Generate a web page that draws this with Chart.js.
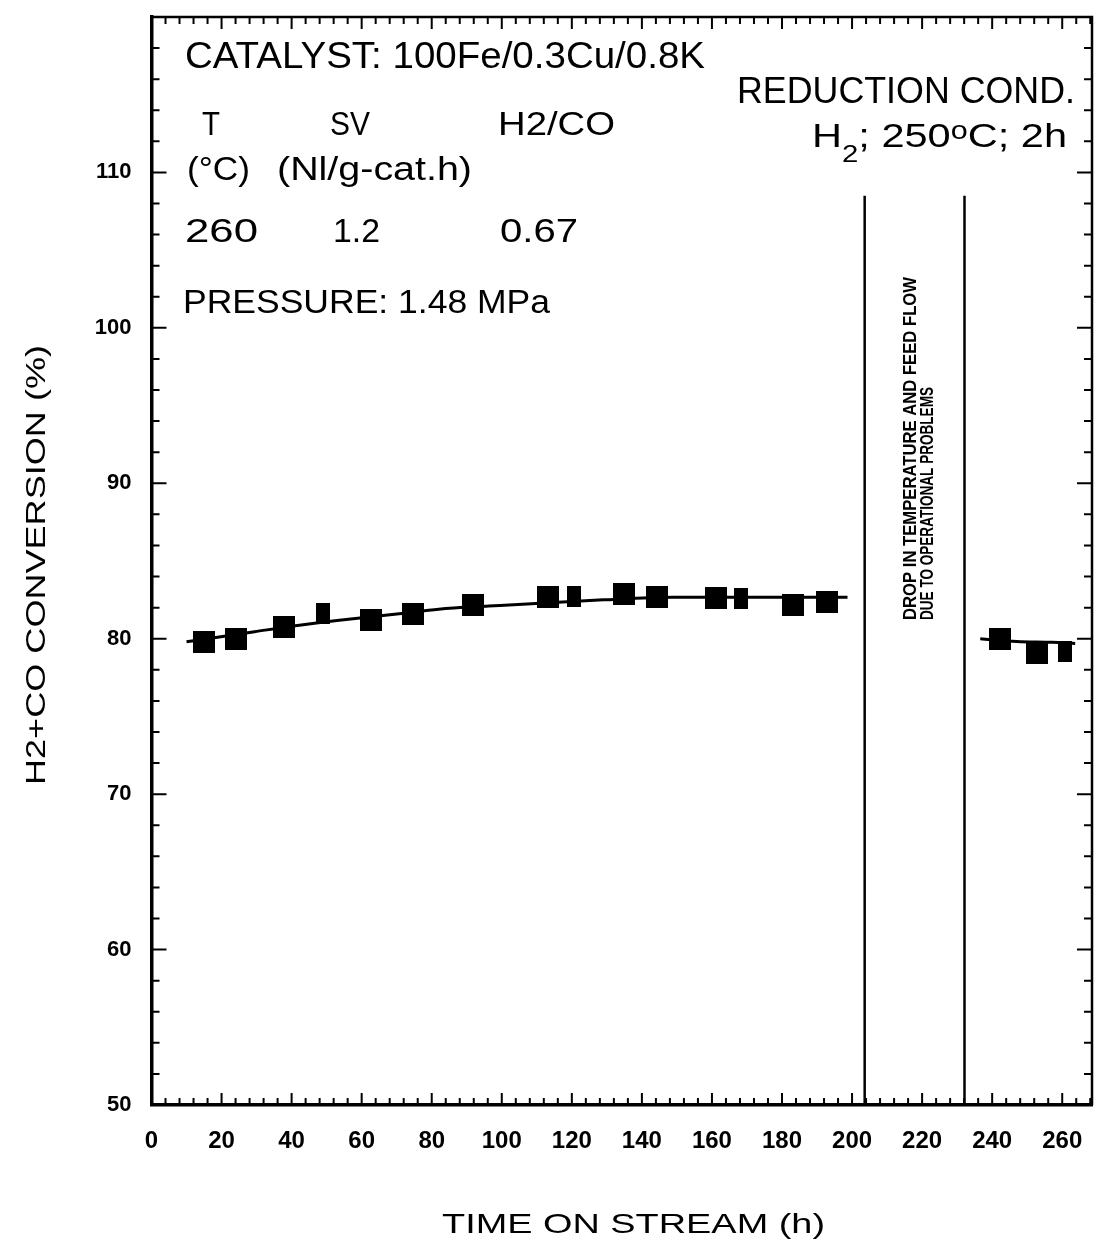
<!DOCTYPE html>
<html>
<head>
<meta charset="utf-8">
<script src="https://cdn.jsdelivr.net/npm/chart.js@4.4.0/dist/chart.umd.min.js"></script>
<style>
  html, body { margin: 0; padding: 0; background: #fff; }
  #wrap { width: 1104px; height: 1257px; position: relative; }
</style>
</head>
<body>
<div id="wrap"><canvas id="conversionChart" width="1104" height="1257"></canvas></div>
<script>
// time on stream (h) vs H2+CO conversion (%)
const hours = [14.9, 24.0, 37.7, 48.9, 62.8, 74.7, 91.7, 113.2, 120.5, 134.9, 144.2, 161.1, 168.4, 183.1, 192.8, 242.3, 252.7, 260.7];
const conversion = [79.8, 80.0, 80.75, 81.65, 81.2, 81.6, 82.2, 82.7, 82.7, 82.85, 82.7, 82.6, 82.6, 82.2, 82.35, 80.0, 79.1, 79.2];
// 'sq' = full square marker, 'bar' = the narrow I-shaped ones
const markerKind = ['sq', 'sq', 'sq', 'bar', 'sq', 'sq', 'sq', 'sq', 'bar', 'sq', 'sq', 'sq', 'bar', 'sq', 'sq', 'sq', 'sq', 'bar'];

// hand-drawn trend line, before and after the upset
const trendHoursA = [10, 29.4, 42.2, 53.6, 70.7, 82, 96.3, 129, 149, 179, 198.7];
const trendA = [79.8, 80.45, 80.87, 81.19, 81.6, 81.9, 82.1, 82.5, 82.66, 82.66, 82.66];
const trendHoursB = [236.6, 247, 257, 263.7];
const trendB = [80.0, 79.82, 79.77, 79.7];

// vertical lines bracketing the operational upset
const upsetHours = [203.6, 232.1];
const upsetTop = 108.5;

const xTicks = [0, 20, 40, 60, 80, 100, 120, 140, 160, 180, 200, 220, 240, 260];
const yTicks = [50, 60, 70, 80, 90, 100, 110];

function block(w, h) {
    const c = document.createElement('canvas');
    c.width = w;
    c.height = h;
    const g = c.getContext('2d');
    g.fillStyle = '#000';
    g.fillRect(0, 0, w, h);
    return c;
}
const squareImg = block(22, 22);
const barImg = block(14, 21);

const pts = (xs, ys) => xs.map((x, i) => ({x: x, y: ys[i]}));

const datasets = [
    {
        label: 'Trend A',
        data: pts(trendHoursA, trendA),
        showLine: true,
        borderColor: '#000',
        borderWidth: 3,
        pointRadius: 0,
        cubicInterpolationMode: 'monotone'
    },
    {
        label: 'Trend B',
        data: pts(trendHoursB, trendB),
        showLine: true,
        borderColor: '#000',
        borderWidth: 3,
        pointRadius: 0,
        cubicInterpolationMode: 'monotone'
    },
    {
        label: 'Conversion',
        data: pts(hours, conversion),
        showLine: false,
        pointStyle: markerKind.map(k => k === 'bar' ? barImg : squareImg),
        pointRadius: 11,
        backgroundColor: '#000',
        borderColor: '#000'
    }
];
upsetHours.forEach(h => {
    datasets.push({
        label: 'Upset',
        data: [{x: h, y: 50}, {x: h, y: upsetTop}],
        showLine: true,
        borderColor: '#000',
        borderWidth: 2.5,
        pointRadius: 0
    });
});

// squeeze/stretch a text run to the width it has in the figure
function fitText(ctx, text, x, y, width, font) {
    ctx.font = font;
    const w = ctx.measureText(text).width;
    ctx.save();
    ctx.translate(x, y);
    ctx.scale(width / w, 1);
    ctx.fillText(text, 0, 0);
    ctx.restore();
}

function fitRuns(ctx, runs, x, y, width) {
    let total = 0;
    runs.forEach(r => { ctx.font = r.font; r.w = ctx.measureText(r.text).width; total += r.w; });
    ctx.save();
    ctx.translate(x, y);
    ctx.scale(width / total, 1);
    let cx = 0;
    runs.forEach(r => {
        ctx.font = r.font;
        ctx.fillText(r.text, cx, r.dy || 0);
        cx += r.w;
    });
    ctx.restore();
}

const FONT = '"Liberation Sans", Arial, sans-serif';

const decorations = {
    id: 'decorations',
    afterDraw(chart) {
        const {ctx, chartArea: a, scales: {x, y}} = chart;
        ctx.save();
        ctx.strokeStyle = '#000';
        ctx.fillStyle = '#000';

        // top and right frame
        ctx.lineWidth = 2.5;
        ctx.beginPath();
        ctx.moveTo(a.left, a.top);
        ctx.lineTo(a.right, a.top);
        ctx.lineTo(a.right, a.bottom);
        ctx.stroke();

        // inward tick marks on all four sides
        ctx.lineWidth = 2;
        ctx.beginPath();
        for (let v = 0; v <= x.max; v += 4) {
            const px = x.getPixelForValue(v);
            const len = v % 20 === 0 ? 12 : 7;
            ctx.moveTo(px, a.bottom); ctx.lineTo(px, a.bottom - len);
            ctx.moveTo(px, a.top); ctx.lineTo(px, a.top + len);
        }
        for (let v = 50; v <= y.max; v += 2) {
            const py = y.getPixelForValue(v);
            const len = v % 10 === 0 ? 15 : 8;
            ctx.moveTo(a.left, py); ctx.lineTo(a.left + len, py);
            ctx.moveTo(a.right, py); ctx.lineTo(a.right - len, py);
        }
        ctx.stroke();

        ctx.textAlign = 'left';
        ctx.textBaseline = 'alphabetic';

        // conditions block
        fitText(ctx, 'CATALYST: 100Fe/0.3Cu/0.8K', 185, 68, 520, '36px ' + FONT);
        fitText(ctx, 'T', 202, 135, 18, '33px ' + FONT);
        fitText(ctx, 'SV', 330, 135, 40, '33px ' + FONT);
        fitText(ctx, 'H2/CO', 498, 135, 117, '33px ' + FONT);
        fitText(ctx, '(°C)', 187, 180, 63, '33px ' + FONT);
        fitText(ctx, '(Nl/g-cat.h)', 277, 180, 195, '33px ' + FONT);
        fitText(ctx, '260', 185, 242, 73, '33px ' + FONT);
        fitText(ctx, '1.2', 333, 242, 47, '33px ' + FONT);
        fitText(ctx, '0.67', 500, 242, 78, '33px ' + FONT);
        fitText(ctx, 'PRESSURE: 1.48 MPa', 183, 313, 367, '33px ' + FONT);

        fitText(ctx, 'REDUCTION COND.', 737, 103, 338, '36px ' + FONT);
        fitRuns(ctx, [
            {text: 'H', font: '34px ' + FONT},
            {text: '2', font: '24px ' + FONT, dy: 15},
            {text: '; 250', font: '34px ' + FONT},
            {text: 'o', font: '25px ' + FONT, dy: -8},
            {text: 'C; 2h', font: '34px ' + FONT}
        ], 812, 147, 255);

        // note between the two vertical lines
        const narrow = 'bold 19px "Liberation Sans Narrow", ' + FONT;
        ctx.save();
        ctx.translate(916, 620);
        ctx.rotate(-Math.PI / 2);
        fitText(ctx, 'DROP IN TEMPERATURE AND FEED FLOW', 0, 0, 343, narrow);
        ctx.restore();
        ctx.save();
        ctx.translate(933, 620);
        ctx.rotate(-Math.PI / 2);
        fitText(ctx, 'DUE TO OPERATIONAL PROBLEMS', 0, 0, 233, narrow);
        ctx.restore();

        // axis titles
        ctx.save();
        ctx.translate(45, 785);
        ctx.rotate(-Math.PI / 2);
        fitText(ctx, 'H2+CO CONVERSION (%)', 0, 0, 440, '28px ' + FONT);
        ctx.restore();
        fitText(ctx, 'TIME ON STREAM (h)', 442, 1233, 383, '28px ' + FONT);

        ctx.restore();
    }
};

const ctx = document.getElementById('conversionChart').getContext('2d');
const conversionChart = new Chart(ctx, {
    type: 'scatter',
    data: {datasets: datasets},
    options: {
        responsive: false,
        animation: false,
        devicePixelRatio: 1,
        layout: {padding: {top: 17, right: 9, left: 0, bottom: 0}},
        plugins: {
            legend: {display: false},
            tooltip: {enabled: false}
        },
        scales: {
            x: {
                type: 'linear',
                min: 0,
                max: 268.5,
                afterBuildTicks: s => { s.ticks = xTicks.map(v => ({value: v})); },
                afterFit: s => { s.height = 152; s.paddingLeft = 0; s.paddingRight = 0; },
                grid: {display: false, drawTicks: false},
                border: {display: true, color: '#000', width: 3.5},
                ticks: {
                    color: '#000',
                    font: {family: FONT, size: 24, weight: 'bold'},
                    padding: 22,
                    maxRotation: 0,
                    autoSkip: false
                }
            },
            y: {
                type: 'linear',
                min: 50,
                max: 120,
                afterBuildTicks: s => { s.ticks = yTicks.map(v => ({value: v})); },
                afterFit: s => { s.width = 151.5; s.paddingTop = 0; s.paddingBottom = 0; },
                grid: {display: false, drawTicks: false},
                border: {display: true, color: '#000', width: 3.5},
                ticks: {
                    color: '#000',
                    font: {family: FONT, size: 22, weight: 'bold'},
                    padding: 20
                }
            }
        }
    },
    plugins: [decorations]
});
</script>
</body>
</html>
